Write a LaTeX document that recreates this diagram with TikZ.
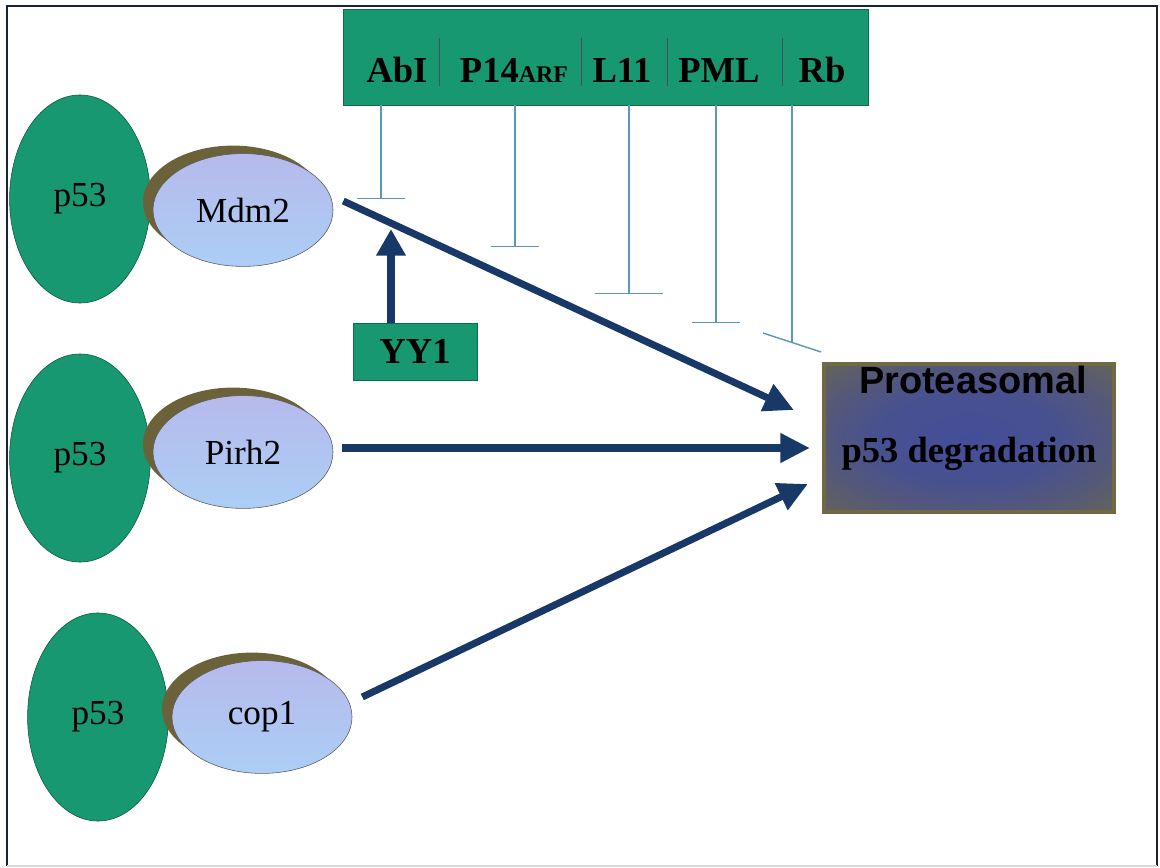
\documentclass[tikz,border=0pt]{standalone}
\usepackage{fontspec}
\setmainfont{Liberation Serif}
\newfontfamily\protsans{Liberation Sans}
\usetikzlibrary{shapes.geometric,arrows.meta,shadows}
\definecolor{pgreen}{RGB}{24,152,112}
\definecolor{lavender}{RGB}{182,186,236}
\definecolor{lavblue}{RGB}{172,206,246}
\definecolor{shadowbrown}{RGB}{108,98,58}
\definecolor{arrownavy}{RGB}{24,56,104}
\definecolor{inhibblue}{RGB}{92,150,186}
\definecolor{protblue}{RGB}{68,78,152}
\definecolor{protolive}{RGB}{112,106,68}
\definecolor{framedark}{RGB}{25,35,55}
\pgfdeclareradialshading{protshade}{\pgfpoint{0bp}{0bp}}{color(0bp)=(protblue);
	color(16bp)=(protblue!90!protolive); color(25bp)=(protblue!65!protolive);
	color(36bp)=(protolive!75!protblue); color(50bp)=(protolive)}
\begin{document}
\begin{tikzpicture}[x=0.025cm, y=-0.025cm,
	p53/.style={ellipse, inner sep=0pt, minimum width=3.52cm, minimum height=5.2cm,
		draw=pgreen!55!black, fill=pgreen, font=\fontsize{25}{30}\selectfont},
	ligase/.style={ellipse, inner sep=0pt, minimum width=4.5cm, minimum height=2.82cm,
		draw=black!65, top color=lavender, middle color=lavender, bottom color=lavblue,
		drop shadow={shadow xshift=-0.25cm, shadow yshift=0.2cm, fill=shadowbrown, opacity=1},
		font=\fontsize{25}{30}\selectfont},
	greenbox/.style={rectangle, inner sep=0pt, draw=pgreen!70!black, fill=pgreen},
	toplabel/.style={anchor=base, inner sep=0pt, font=\bfseries\fontsize{26}{30}\selectfont},
	inhib/.style={draw=inhibblue, line width=1pt},
	push/.style={draw=arrownavy, line width=5pt, -{Triangle[length=21pt, width=20pt]}}]
	\useasboundingbox (0,0) rectangle (1160,868);
	% frame
	\draw[framedark, line width=1.4pt] (7,866) -- (7,6) -- (1157,6) -- (1157,866);
	\draw[black!15, line width=1pt] (7,866) -- (1157,866);

	% p53 and its ligases
	\node[p53] (p53a) at (80,199) {p53};
	\node[ligase] (mdm2) at (243,210) {Mdm2};
	\node[p53] (p53b) at (80,458) {p53};
	\node[ligase] (pirh2) at (243,452) {Pirh2};
	\node[p53] (p53c) at (98,717) {p53};
	\node[ligase] (cop1) at (262,717) {cop1};

	% inhibitors of Mdm2
	\node[greenbox, minimum width=13.125cm, minimum height=2.4cm] (inhibitors) at (605.5,57) {};
	\foreach \x in {439,581,667,782}
		\draw[framedark!80, line width=0.6pt] (\x,38) -- (\x,86);
	\node[toplabel] (abl) at (397,82) {AbI};
	\node[toplabel] (p14) at (514,82) {P14{\fontsize{17}{20}\selectfont ARF}};
	\node[toplabel] (l11) at (622,82) {L11};
	\node[toplabel] (pml) at (719,82) {PML};
	\node[toplabel] (rb) at (822,82) {Rb};

	\foreach \x/\y/\w [count=\i] in {381/199/1.2cm, 515/247/1.18cm, 629/294/1.68cm, 716/323/1.18cm}{
		\coordinate (stop\i) at (\x,\y);
		\draw[inhib, -{Bar[width=\w]}] (inhibitors.south -| stop\i) -- (stop\i);
	}
	\coordinate (stop5) at (792,342);
	\draw[inhib] (inhibitors.south -| stop5) -- (stop5);
	\draw[inhib] ([shift={(-29,-9)}]stop5) -- ([shift={(29,10)}]stop5);

	% degradation
	\node[rectangle, inner sep=0pt, minimum width=7.25cm, minimum height=3.7cm,
		draw=protolive, line width=3pt, shading=protshade] (prot) at (969,438) {};
	\node[anchor=base, inner sep=0pt, font=\protsans\bfseries\fontsize{27}{30}\selectfont] (protA) at (973,393) {Proteasomal};
	\node[anchor=base, inner sep=0pt, font=\bfseries\fontsize{26}{30}\selectfont] (protB) at (969,462) {p53 degradation};

	\coordinate (tipA) at ([shift={(-28,-28)}]prot.west);
	\coordinate (tipB) at ([shift={(-12,10)}]prot.west);
	\coordinate (tipC) at ([shift={(-14,46)}]prot.west);
	\draw[push] ([shift={(10,-9)}]mdm2.east) -- (tipA);
	\draw[push] ([shift={(9,-4)}]pirh2.east) -- (tipB);
	\draw[push] ([shift={(10,-20)}]cop1.east) -- (tipC);

	% YY1
	\node[greenbox, minimum width=3.1cm, minimum height=1.43cm,
		font=\bfseries\fontsize{26}{30}\selectfont] (yy1) at (415,351.5) {YY1};
	\coordinate (yytip) at (391,229);
	\draw[push, -{Triangle[length=19pt, width=20pt]}] (yy1.north -| yytip) -- (yytip);
\end{tikzpicture}
\end{document}
